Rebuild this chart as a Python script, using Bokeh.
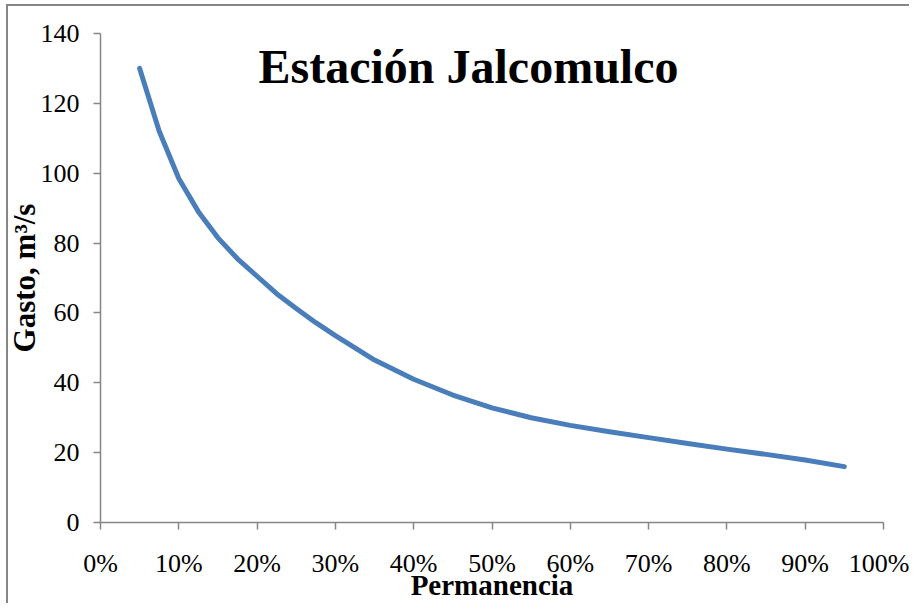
from bokeh.plotting import figure
from bokeh.models import Range1d, FixedTicker, NumeralTickFormatter, Label
from bokeh.embed import file_html
from bokeh.resources import INLINE

# Data
permanencia = [0.05, 0.075, 0.10, 0.125, 0.15, 0.175, 0.20, 0.225, 0.25, 0.275,
               0.30, 0.35, 0.40, 0.45, 0.50, 0.55, 0.60, 0.65, 0.70, 0.75,
               0.80, 0.85, 0.90, 0.95]
gasto = [130.0, 112.0, 98.5, 89.0, 81.5, 75.5, 70.5, 65.5, 61.3, 57.2,
         53.5, 46.5, 41.0, 36.5, 32.8, 30.0, 27.8, 26.0, 24.3, 22.6,
         21.0, 19.5, 17.9, 16.0]
x_ticks = [0.0, 0.1, 0.2, 0.3, 0.4, 0.5, 0.6, 0.7, 0.8, 0.9, 1.0]
y_ticks = [0, 20, 40, 60, 80, 100, 120, 140]

title_text = "Estación Jalcomulco"
x_label = "Permanencia"
y_label = "Gasto, m³/s"

SERIF = "Liberation Serif"
GREY = "#868686"

p = figure(width=909, height=603, output_backend="svg", toolbar_location=None,
           title=None, x_range=Range1d(0, 1), y_range=Range1d(0, 140),
           min_border_left=100, min_border_right=26, min_border_top=33,
           min_border_bottom=80)
p.outline_line_color = None
p.xgrid.grid_line_color = None
p.ygrid.grid_line_color = None
p.background_fill_color = "white"
p.border_fill_color = None
p.styles = {
    "background": ("linear-gradient(#868686,#868686) 6px 4px / 2px 100% no-repeat, "
                   "linear-gradient(#868686,#868686) 6px 4px / 100% 2px no-repeat, white"),
}

for ax in (p.xaxis[0], p.yaxis[0]):
    ax.axis_line_color = GREY
    ax.axis_line_width = 1.5
    ax.major_tick_line_color = GREY
    ax.major_tick_line_width = 1.5
    ax.major_tick_out = 7
    ax.major_tick_in = 0
    ax.minor_tick_line_color = None
    ax.major_label_text_font = SERIF
    ax.major_label_text_font_size = "26px"
    ax.major_label_text_color = "black"
    ax.axis_label_text_font = SERIF
    ax.axis_label_text_font_style = "bold"
    ax.axis_label_text_color = "black"

p.xaxis[0].ticker = FixedTicker(ticks=x_ticks)
p.xaxis[0].formatter = NumeralTickFormatter(format="0%")
p.xaxis[0].major_label_standoff = 19
p.xaxis[0].axis_label = x_label
p.xaxis[0].axis_label_text_font_size = "29px"
p.xaxis[0].axis_label_standoff = -12

p.yaxis[0].ticker = FixedTicker(ticks=y_ticks)
p.yaxis[0].major_label_standoff = 14
p.yaxis[0].axis_label = y_label
p.yaxis[0].axis_label_text_font_size = "31px"
p.yaxis[0].axis_label_standoff = -4

p.line(permanencia, gasto, line_color="#4a7ebb", line_width=5, line_cap="round",
       line_join="round")

p.add_layout(Label(x=0.47, y=138.0, text=title_text, text_font=SERIF,
                   text_font_size="48px", text_font_style="bold",
                   text_align="center", text_baseline="top",
                   text_color="black"))

open("out.html", "w").write(file_html(p, INLINE))
